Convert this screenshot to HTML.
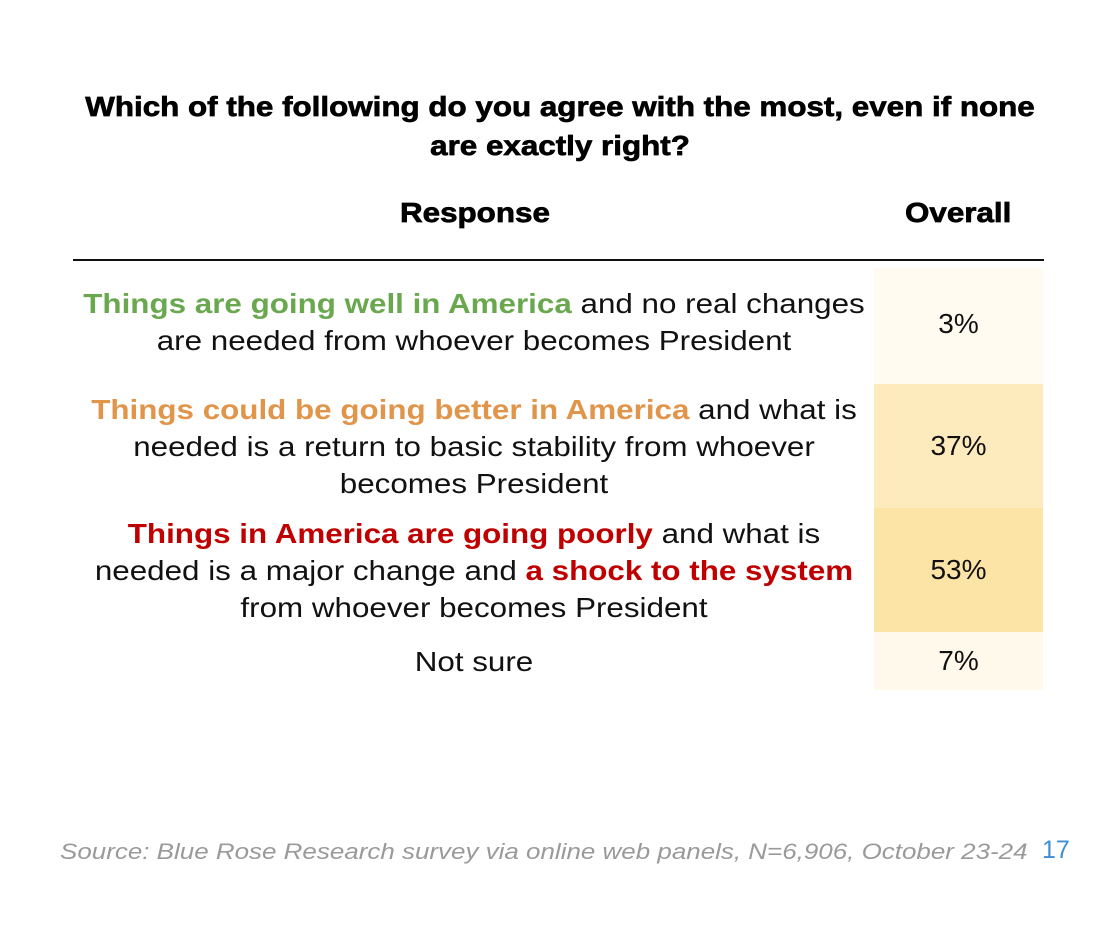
<!DOCTYPE html>
<html><head><meta charset="utf-8">
<style>
body{margin:0;width:1100px;height:939px;background:#fff;font-family:"Liberation Sans",sans-serif;position:relative;overflow:hidden;color:#111}
.t{position:absolute;white-space:nowrap}
.title{left:0;width:1120px;text-align:center;font-weight:bold;font-size:28px;line-height:39px;top:87px;transform:scaleX(1.12);transform-origin:560px 0;-webkit-text-stroke:0.7px #000;color:#000}
.hdr{font-weight:bold;font-size:28px;top:197px;transform:scaleX(1.12);transform-origin:0 0;-webkit-text-stroke:0.7px #000;color:#000}
.row{position:absolute;left:74px;width:800px;text-align:center;font-size:28px;line-height:37px;color:#111;transform:scaleX(1.12);transform-origin:400px 0}
.g{color:#6aa84f;font-weight:bold}
.o{color:#e0954a;font-weight:bold}
.r{color:#c00000;font-weight:bold}
.cell{position:absolute;left:874px;width:169px;display:flex;align-items:center;justify-content:center;font-size:28px}
</style></head><body>
<div class="t title">Which of the following do you agree with the most, even if none<br>are exactly right?</div>
<div class="t hdr" style="left:400px">Response</div>
<div class="t hdr" style="left:905px">Overall</div>
<div style="position:absolute;left:73px;top:259px;width:971px;height:2px;background:#111"></div>

<div class="row" style="top:285px"><span class="g">Things are going well in America</span> and no real changes<br>are needed from whoever becomes President</div>
<div class="row" style="top:391px"><span class="o">Things could be going better in America</span> and what is<br>needed is a return to basic stability from whoever<br>becomes President</div>
<div class="row" style="top:515px"><span class="r">Things in America are going poorly</span> and what is<br>needed is a major change and <span class="r">a shock to the system</span><br>from whoever becomes President</div>
<div class="row" style="top:643px">Not sure</div>

<div id="cells"></div>

<div class="t" style="left:60px;top:839px;font-size:22px;font-style:italic;color:#9a9a9a;transform:scaleX(1.18);transform-origin:0 0">Source: Blue Rose Research survey via online web panels, N=6,906, October 23-24</div>
<div class="t" style="left:1042px;top:836px;font-size:25px;color:#3d8fd1">17</div>

<script>
const categories = ["Going well", "Could be better", "Going poorly", "Not sure"];
const values = [3, 37, 53, 7];
const rowTops = [268, 384, 508, 632];
const rowHeights = [116, 124, 124, 58];
function heat(v){
  const t = Math.min(1, v / 53);
  const r = Math.round(255 - 3*t), g = Math.round(252 - 25*t), b = Math.round(245 - 79*t);
  return `rgb(${r},${g},${b})`;
}
const host = document.getElementById('cells');
values.forEach((v,i)=>{
  const el = document.createElement('div');
  el.className = 'cell';
  el.style.top = rowTops[i] + 'px';
  el.style.height = rowHeights[i] + 'px';
  el.style.background = heat(v);
  if (i === 0) { el.style.alignItems = 'flex-start'; el.style.paddingTop = '40px'; el.style.height = (rowHeights[i]-40)+'px'; }
  el.textContent = v + '%';
  
  
  host.appendChild(el);
});
</script>
</body></html>
